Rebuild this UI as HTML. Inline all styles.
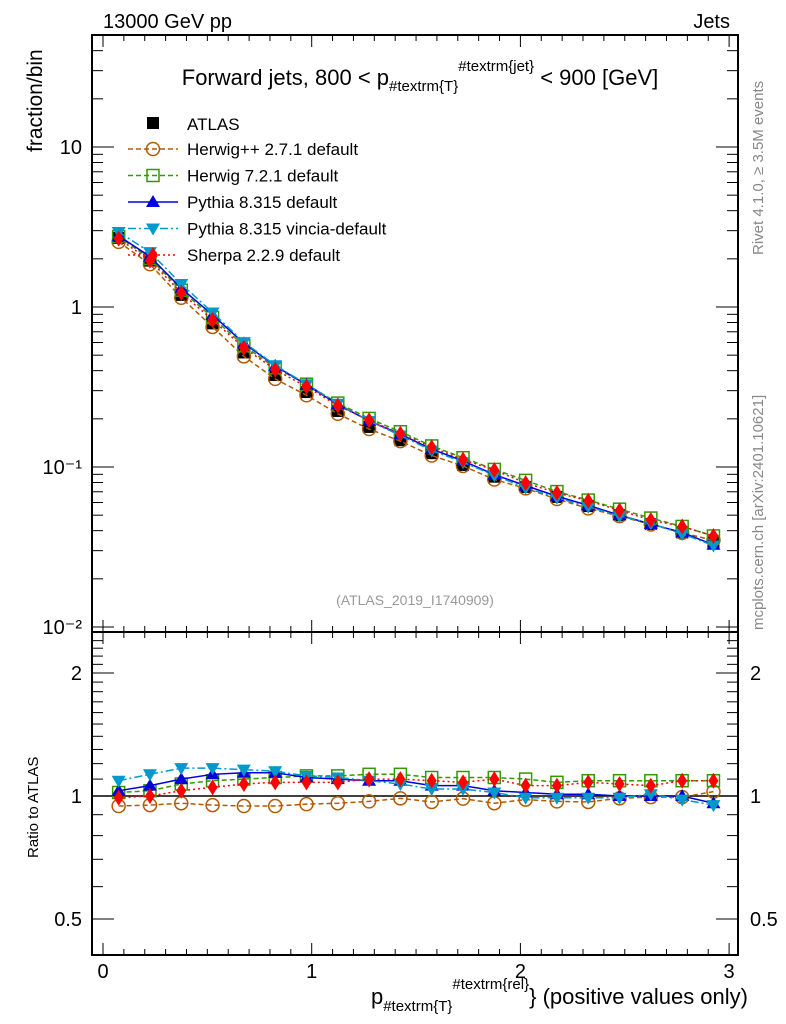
<!DOCTYPE html>
<html><head><meta charset="utf-8"><style>
body{margin:0;background:#fff;}
svg{display:block;font-family:"Liberation Sans",sans-serif;}
</style></head><body>
<svg id="chart" width="786" height="1024" viewBox="0 0 786 1024" xmlns="http://www.w3.org/2000/svg">
<rect x="0" y="0" width="786" height="1024" fill="#fff"/>
<text x="103" y="28" font-size="20">13000 GeV pp</text>
<text x="730" y="28" font-size="20" text-anchor="end">Jets</text>
<text x="420" y="85" font-size="22" text-anchor="middle">Forward jets, 800 &lt; p<tspan font-size="15" dy="6">#textrm{T}</tspan><tspan font-size="15" dy="-20">#textrm{jet}</tspan><tspan dy="14"> &lt; 900 [GeV]</tspan></text>
<text x="0" y="0" font-size="21" transform="translate(42,152) rotate(-90)">fraction/bin</text>
<text x="0" y="0" font-size="15" transform="translate(38,858) rotate(-90)">Ratio to ATLAS</text>
<text x="0" y="0" font-size="15" fill="#888" transform="translate(763,255) rotate(-90)">Rivet 4.1.0, ≥ 3.5M events</text>
<text x="0" y="0" font-size="15" fill="#888" transform="translate(763,630) rotate(-90)">mcplots.cern.ch [arXiv:2401.10621]</text>
<text x="415" y="605" font-size="14" fill="#999" text-anchor="middle">(ATLAS_2019_I1740909)</text>
<text x="748" y="1004" font-size="22" text-anchor="end">p<tspan font-size="15" dy="7">#textrm{T}</tspan><tspan font-size="15" dy="-22">#textrm{rel}</tspan><tspan dy="15">} (positive values only)</tspan></text>
<g id="main"></g>
<g id="ratio"></g>
<g id="legend"></g>
</svg>
<script>
const xCenters=[0.075,0.225,0.375,0.525,0.675,0.825,0.975,1.125,1.275,1.425,1.575,1.725,1.875,2.025,2.175,2.325,2.475,2.625,2.775,2.925];
const atlasVals=[2.7,1.95,1.19,0.79,0.52,0.376,0.294,0.224,0.178,0.147,0.122,0.103,0.087,0.075,0.065,0.057,0.05,0.044,0.039,0.034];
const ratioHerwigpp=[0.945,0.95,0.96,0.95,0.945,0.945,0.955,0.96,0.97,0.987,0.967,0.985,0.96,0.98,0.97,0.967,0.987,0.994,0.994,1.025];
const ratioHerwig7=[1.02,1.03,1.07,1.09,1.10,1.11,1.12,1.12,1.13,1.13,1.11,1.11,1.11,1.10,1.08,1.09,1.09,1.09,1.09,1.09];
const ratioPythia=[1.03,1.06,1.10,1.13,1.14,1.14,1.11,1.10,1.09,1.09,1.06,1.06,1.03,1.02,1.01,1.01,1.0,1.0,1.0,0.96];
const ratioVincia=[1.09,1.13,1.17,1.17,1.16,1.15,1.12,1.11,1.09,1.07,1.04,1.04,1.02,0.99,0.99,0.99,0.99,1.01,0.98,0.95];
const ratioSherpa=[0.99,1.0,1.03,1.05,1.07,1.08,1.08,1.08,1.10,1.10,1.09,1.08,1.10,1.06,1.06,1.08,1.07,1.06,1.09,1.09];
const xTicks=[0,1,2,3];
const yTickLabels=["10\u207B\u00B2","10\u207B\u00B9","1","10"];
const ratioTicks=[0.5,1,2];

const NS="http://www.w3.org/2000/svg";
const L=92,R=738,T=35,MB=632,RB=955;
const X=v=>103+v*208.7;
const Y=v=>307-160*Math.log10(v);
const YR=r=>796-123*Math.log2(r);
function el(tag,attrs,parent){const e=document.createElementNS(NS,tag);for(const k in attrs)e.setAttribute(k,attrs[k]);parent.appendChild(e);return e;}
const main=document.getElementById('main'),ratio=document.getElementById('ratio'),leg=document.getElementById('legend');

let f=el('rect',{x:L,y:T,width:R-L,height:MB-T,fill:'none',stroke:'#000','stroke-width':2},main);


f=el('rect',{x:L,y:MB,width:R-L,height:RB-MB,fill:'none',stroke:'#000','stroke-width':2},ratio);



for(let v=0;v<=3.0001;v+=0.1){
  const major=Math.abs(v-Math.round(v))<1e-6;const len=major?12:6;const xx=X(v);
  if(xx<L||xx>R)continue;
  for(const [y0,y1] of [[T,MB],[MB,RB]]){
    el('line',{x1:xx,y1:y1,x2:xx,y2:y1-len,stroke:'#000'},main);
    el('line',{x1:xx,y1:y0,x2:xx,y2:y0+len,stroke:'#000'},main);
  }
}
xTicks.forEach(v=>{
  const t=el('text',{x:X(v),y:978,'font-size':20,'text-anchor':'middle'},ratio);t.textContent=v;
  
  
});
for(let d=-2;d<=1;d++){
  for(let m=1;m<=9;m++){
    const v=m*Math.pow(10,d);const yy=Y(v);if(yy<T||yy>MB)continue;
    const len=m==1?22:11;
    el('line',{x1:L,y1:yy,x2:L+len,y2:yy,stroke:'#000'},main);
    el('line',{x1:R,y1:yy,x2:R-len,y2:yy,stroke:'#000'},main);
  }
}
yTickLabels.forEach((s,i)=>{
  const t=el('text',{x:82,y:Y(Math.pow(10,i-2))+7,'font-size':20,'text-anchor':'end'},main);t.textContent=s;
  
  
});
for(let v=0.4;v<=2.5;v+=0.1){const yy=YR(v);if(yy<MB||yy>RB)continue;
  const maj=[0.5,1,2].some(q=>Math.abs(q-v)<1e-6);const len=maj?22:11;
  el('line',{x1:L,y1:yy,x2:L+len,y2:yy,stroke:'#000'},ratio);
  el('line',{x1:R,y1:yy,x2:R-len,y2:yy,stroke:'#000'},ratio);}
ratioTicks.forEach(v=>{
  let t=el('text',{x:82,y:YR(v)+7,'font-size':20,'text-anchor':'end'},ratio);t.textContent=v;
  
  
  t=el('text',{x:750,y:YR(v)+7,'font-size':20},ratio);t.textContent=v;
  
  
});
el('line',{x1:L,y1:YR(1),x2:R,y2:YR(1),stroke:'#000','stroke-width':1.5},ratio);

function marker(g,type,x,y,c){
  const s=6;
  if(type=='square')return el('rect',{x:x-s,y:y-s,width:2*s,height:2*s,fill:'#000'},g);
  if(type=='circle')return el('circle',{cx:x,cy:y,r:6.5,fill:'none',stroke:c,'stroke-width':1.5},g);
  if(type=='osquare')return el('rect',{x:x-6,y:y-6,width:12,height:12,fill:'none',stroke:c,'stroke-width':1.5},g);
  if(type=='tri')return el('polygon',{points:`${x},${y-7} ${x-7},${y+5} ${x+7},${y+5}`,fill:c},g);
  if(type=='itri')return el('polygon',{points:`${x},${y+7} ${x-7},${y-5} ${x+7},${y-5}`,fill:c},g);
  if(type=='diamond')return el('polygon',{points:`${x},${y-8} ${x-5},${y} ${x},${y+8} ${x+5},${y}`,fill:c},g);
}
const series=[
  {name:'herwigpp',r:ratioHerwigpp,c:'#b35900',m:'circle',dash:'5,3'},
  {name:'herwig7',r:ratioHerwig7,c:'#339900',m:'osquare',dash:'5,3'},
  {name:'pythia',r:ratioPythia,c:'#0000dd',m:'tri',dash:''},
  {name:'vincia',r:ratioVincia,c:'#0099cc',m:'itri',dash:'8,3,2,3'},
  {name:'sherpa',r:ratioSherpa,c:'#ff0000',m:'diamond',dash:'2,3'}
];
atlasVals.forEach((v,i)=>{const m=marker(main,'square',X(xCenters[i]),Y(v));
  
  });
series.forEach(s=>{
  const pm=xCenters.map((x,i)=>[X(x),Y(atlasVals[i]*s.r[i])]);
  const pr=xCenters.map((x,i)=>[X(x),YR(s.r[i])]);
  for(const [pts,g] of [[pm,main],[pr,ratio]]){
    const pl=el('polyline',{points:pts.map(p=>p.join(',')).join(' '),fill:'none',stroke:s.c,'stroke-width':1.5,'stroke-dasharray':s.dash},g);
    
    
    pts.forEach(p=>{const m=marker(g,s.m,p[0],p[1],s.c);
      
      });
  }
});
const legNames=['Herwig++ 2.7.1 default','Herwig 7.2.1 default','Pythia 8.315 default','Pythia 8.315 vincia-default','Sherpa 2.2.9 default'];
let m=marker(leg,'square',153,123);


let t=el('text',{x:187,y:130,'font-size':17},leg);t.textContent='ATLAS';


series.forEach((s,i)=>{
  const y=149+i*26.5;
  el('line',{x1:128,y1:y,x2:178,y2:y,stroke:s.c,'stroke-width':1.5,'stroke-dasharray':s.dash},leg);
  marker(leg,s.m,153,y,s.c);
  const tt=el('text',{x:187,y:y+6,'font-size':17},leg);tt.textContent=legNames[i];
  
  
});
</script>
</body></html>
